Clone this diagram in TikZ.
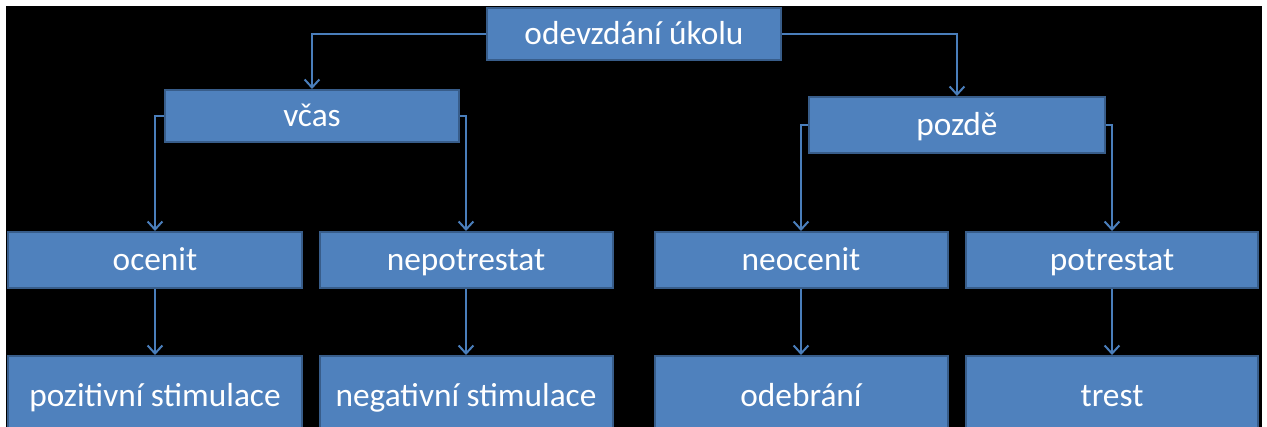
\documentclass[tikz,border=0pt]{standalone}
\usepackage{fontspec}
\setmainfont{Carlito}
\usetikzlibrary{arrows.meta}
\definecolor{boxfill}{HTML}{4F81BD}
\definecolor{boxline}{HTML}{385D8A}
\definecolor{conn}{HTML}{4A7EBB}
\tikzset{
  box/.style={draw=boxline, line width=1.5pt, fill=boxfill, text=white, inner sep=0pt,
    font=\fontsize{25}{29}\selectfont, text height=17pt, text depth=2pt},
  arr/.style={draw=conn, line width=1.5pt, -{Straight Barb[length=6pt,width=11pt,line width=1.5pt]}},
}
\begin{document}
\begin{tikzpicture}[x=0.75pt,y=-0.75pt]
\useasboundingbox (0,0) rectangle (1267,426);
\clip (0,0) rectangle (1267,426);
\fill[white] (0,0) rectangle (1267,426);
\fill[black] (6,6) rectangle (1262,430);
% row 1
\node[box, minimum width=294*0.75pt, minimum height=52*0.75pt] (top) at (634,34) {odevzdání úkolu};
% row 2
\node[box, minimum width=294*0.75pt, minimum height=52*0.75pt] (vcas) at (312,116) {včas};
\node[box, minimum width=296*0.75pt, minimum height=56*0.75pt] (pozde) at (957,125) {pozdě};
% row 3
\node[box, minimum width=294*0.75pt, minimum height=56*0.75pt] (ocenit) at (155,260) {ocenit};
\node[box, minimum width=293*0.75pt, minimum height=56*0.75pt] (nepotrestat) at (466,260) {nepotrestat};
\node[box, minimum width=293*0.75pt, minimum height=56*0.75pt] (neocenit) at (801,260) {neocenit};
\node[box, minimum width=292*0.75pt, minimum height=56*0.75pt] (potrestat) at (1112,260) {potrestat};
% row 4
\node[box, minimum width=294*0.75pt, minimum height=80*0.75pt] (pozitivni) at (155,396) {pozitivní stimulace};
\node[box, minimum width=293*0.75pt, minimum height=80*0.75pt] (negativni) at (466,396) {negativní stimulace};
\node[box, minimum width=293*0.75pt, minimum height=80*0.75pt] (odebrani) at (801,396) {odebrání};
\node[box, minimum width=292*0.75pt, minimum height=80*0.75pt] (trest) at (1112,396) {trest};
% connectors
\draw[arr] (top.west) -| (vcas.north);
\draw[arr] (top.east) -| (pozde.north);
\draw[arr] (vcas.west) -| (ocenit.north);
\draw[arr] (vcas.east) -| (nepotrestat.north);
\draw[arr] (pozde.west) -| (neocenit.north);
\draw[arr] (pozde.east) -| (potrestat.north);
\draw[arr] (ocenit.south) -- (pozitivni.north);
\draw[arr] (nepotrestat.south) -- (negativni.north);
\draw[arr] (neocenit.south) -- (odebrani.north);
\draw[arr] (potrestat.south) -- (trest.north);
\end{tikzpicture}
\end{document}
